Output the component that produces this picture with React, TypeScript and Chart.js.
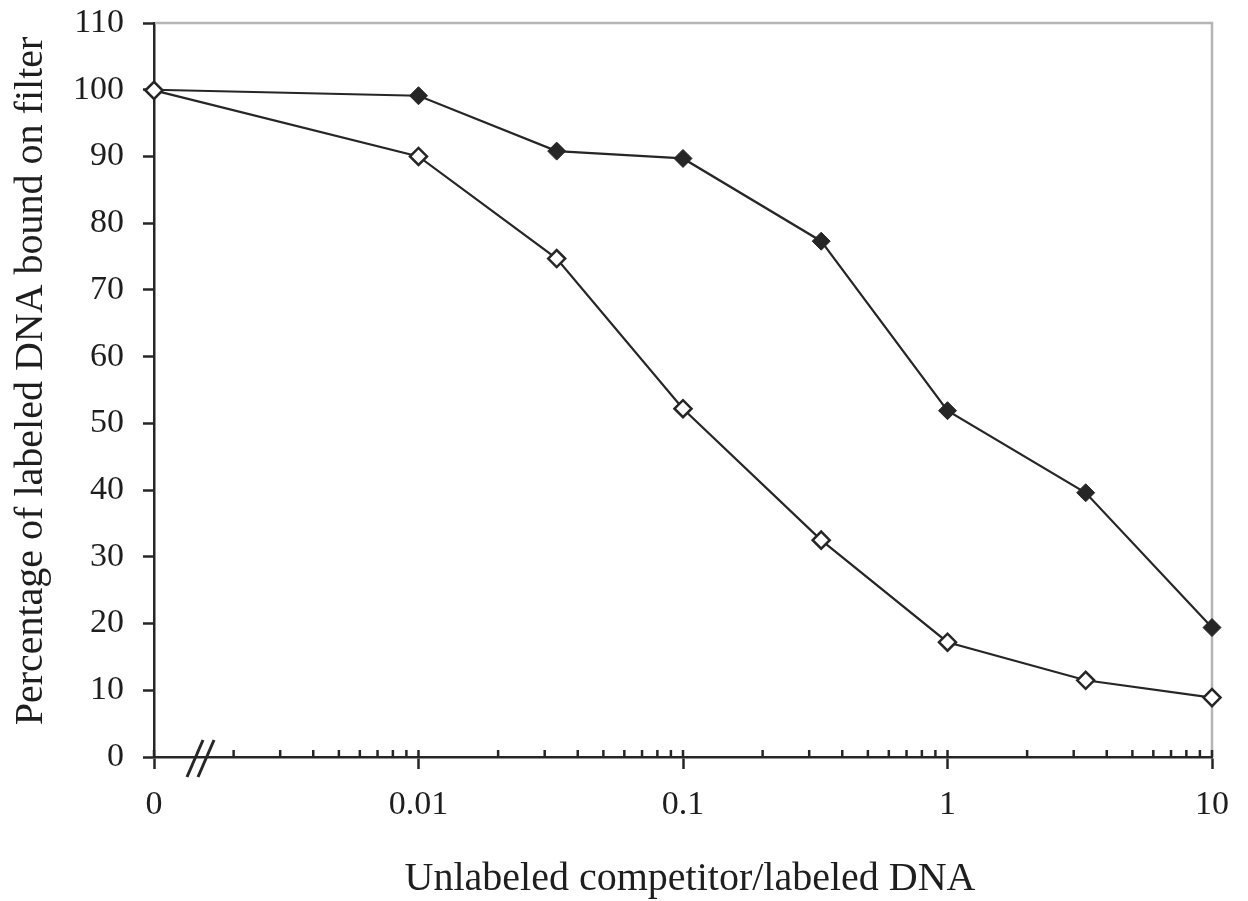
import React, { useEffect, useRef } from "react";
import { Chart, registerables } from "chart.js";

Chart.register(...registerables);

// x = 0 is drawn at the position of 0.001 on the broken log axis
const xValues = [0.001, 0.01, 0.0333, 0.1, 0.333, 1, 3.33, 10];
const filledSeries = [100, 99.1, 90.8, 89.7, 77.3, 51.9, 39.6, 19.4];
const openSeries = [99.9, 90.0, 74.7, 52.2, 32.5, 17.2, 11.5, 8.9];

const majorTicks = [0.001, 0.01, 0.1, 1, 10];
const majorLabels = ["0", "0.01", "0.1", "1", "10"];
const minorMultipliers = [2, 3, 4, 5, 6, 7, 8, 9];

const yTitle = "Percentage of labeled DNA bound on filter";
const xTitle = "Unlabeled competitor/labeled DNA";

const FONT = '"Liberation Serif", "Times New Roman", serif';
const INK = "#262626";
const TEXT = "#1e1e1e";

export default function App() {
  const ref = useRef<HTMLCanvasElement | null>(null);

  useEffect(() => {
    if (!ref.current) return;

    const allTicks: number[] = [];
    majorTicks.forEach((m, i) => {
      allTicks.push(m);
      if (i < majorTicks.length - 1) minorMultipliers.forEach((k) => allTicks.push(m * k));
    });

    const frame = {
      id: "frame",
      beforeDatasetsDraw(chart: any) {
        const { ctx, chartArea } = chart;
        const xs = chart.scales.x;
        const { left, right, top, bottom } = chartArea;
        ctx.save();
        ctx.strokeStyle = "#b5b5b5";
        ctx.lineWidth = 2.5;
        ctx.beginPath();
        ctx.moveTo(left + 1, top);
        ctx.lineTo(right, top);
        ctx.lineTo(right, bottom);
        ctx.stroke();
        ctx.strokeStyle = INK;
        ctx.lineWidth = 2.5;
        allTicks.forEach((v) => {
          const px = xs.getPixelForValue(v);
          ctx.beginPath();
          ctx.moveTo(px, bottom);
          ctx.lineTo(px, bottom - 7);
          ctx.stroke();
        });
        ctx.restore();
      },
    };

    const decor = {
      id: "decor",
      afterDraw(chart: any) {
        const { ctx, chartArea } = chart;
        const xs = chart.scales.x;
        const { bottom } = chartArea;
        ctx.save();
        const base = xs.getPixelForValue(majorTicks[0]);
        ctx.strokeStyle = INK;
        ctx.lineWidth = 3;
        [0, 11].forEach((d) => {
          ctx.beginPath();
          ctx.moveTo(base + 33 + d, bottom + 20);
          ctx.lineTo(base + 49 + d, bottom - 17);
          ctx.stroke();
        });
        ctx.fillStyle = TEXT;
        ctx.font = `40px ${FONT}`;
        ctx.textAlign = "center";
        ctx.textBaseline = "alphabetic";
        ctx.fillText(xTitle, 690, 890);
        ctx.save();
        ctx.translate(42, 381);
        ctx.rotate(-Math.PI / 2);
        ctx.font = `40px ${FONT}`;
        ctx.fillText(yTitle, 0, 0);
        ctx.restore();
        ctx.restore();
      },
    };

    const chart = new Chart(ref.current, {
      type: "line",
      data: {
        datasets: [
          {
            label: "open",
            data: xValues.map((x, i) => ({ x, y: openSeries[i] })),
            borderColor: INK,
            borderWidth: 2.2,
            backgroundColor: "#ffffff",
            pointStyle: "rectRot",
            pointRadius: 8.5,
            pointBorderWidth: 2.5,
            pointBorderColor: INK,
            pointBackgroundColor: "#ffffff",
            tension: 0,
            clip: false,
          },
          {
            label: "filled",
            data: xValues.map((x, i) => ({ x, y: filledSeries[i] })),
            borderColor: INK,
            borderWidth: 2.2,
            backgroundColor: INK,
            pointStyle: "rectRot",
            pointRadius: 9,
            pointBorderWidth: 1,
            pointBorderColor: INK,
            pointBackgroundColor: INK,
            tension: 0,
            clip: false,
          },
        ],
      },
      options: {
        animation: false,
        responsive: true,
        maintainAspectRatio: false,
        layout: { padding: { left: 0, top: 23, right: 36, bottom: 0 } },
        plugins: { legend: { display: false }, tooltip: { enabled: false } },
        scales: {
          x: {
            type: "logarithmic",
            min: 0.001,
            max: 10,
            afterBuildTicks: (scale: any) => {
              scale.ticks = allTicks.map((v) => ({ value: v, major: majorTicks.includes(v) }));
            },
            afterFit: (scale: any) => {
              scale.height = 144;
              scale.paddingLeft = 0;
              scale.paddingRight = 0;
            },
            ticks: {
              autoSkip: false,
              maxRotation: 0,
              minRotation: 0,
              padding: 16,
              color: TEXT,
              font: { family: FONT, size: 34 },
              callback: (v: any) => {
                const idx = majorTicks.findIndex((m) => Math.abs(m - Number(v)) < m * 1e-6);
                return idx >= 0 ? majorLabels[idx] : "";
              },
            },
            grid: {
              drawOnChartArea: false,
              drawTicks: true,
              tickLength: 12,
              tickWidth: (c: any) => (c.tick && c.tick.major ? 2.5 : 0),
              tickColor: INK,
            },
            border: { display: true, color: INK, width: 2.5 },
          },
          y: {
            min: 0,
            max: 110,
            afterFit: (scale: any) => {
              scale.width = 154;
              scale.paddingTop = 0;
              scale.paddingBottom = 0;
            },
            ticks: {
              stepSize: 10,
              padding: 19,
              color: TEXT,
              font: { family: FONT, size: 34 },
            },
            grid: {
              drawOnChartArea: false,
              drawTicks: true,
              tickLength: 11,
              tickWidth: 2.5,
              tickColor: INK,
            },
            border: { display: true, color: INK, width: 2.5 },
          },
        },
      },
      plugins: [frame, decor],
    });

    return () => chart.destroy();
  }, []);

  return (
    <div style={{ position: "fixed", left: 0, top: 0, width: 1248, height: 901, background: "#fff" }}>
      <canvas ref={ref} />
    </div>
  );
}
